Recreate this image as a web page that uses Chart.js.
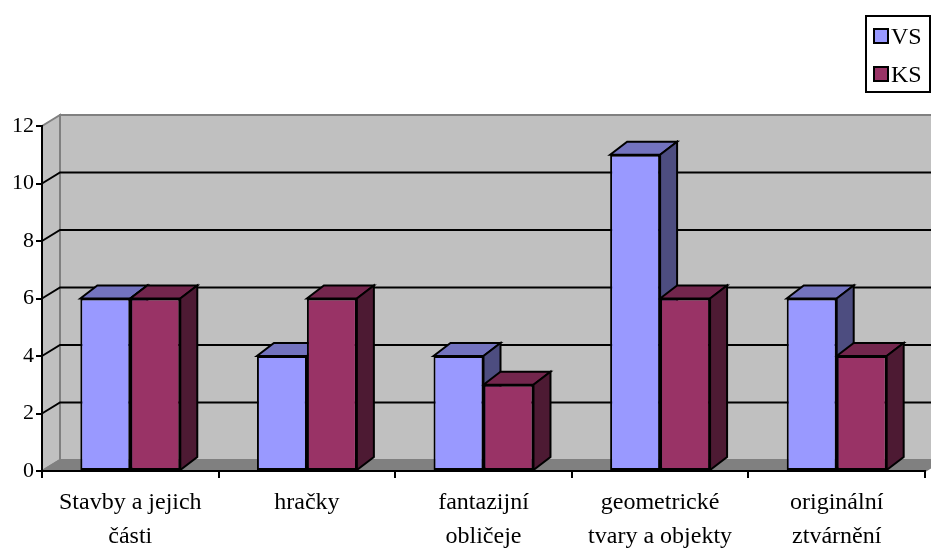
<!DOCTYPE html>
<html>
<head>
<meta charset="utf-8">
<script src="https://cdn.jsdelivr.net/npm/chart.js@4/dist/chart.umd.min.js"></script>
<style>
  html, body { margin: 0; padding: 0; background: #fff; }
  #wrap { width: 931px; height: 548px; }
</style>
</head>
<body>
<div id="wrap"><canvas id="c" width="931" height="548"></canvas></div>
<script>
const categories = [
  ["Stavby a jejich", "části"],
  "hračky",
  ["fantazijní", "obličeje"],
  ["geometrické", "tvary a objekty"],
  ["originální", "ztvárnění"]
];
const seriesNames = ["VS", "KS"];
const vsValues = [6, 4, 4, 11, 6];
const ksValues = [6, 6, 3, 6, 4];
const yTicks = [0, 2, 4, 6, 8, 10, 12];

const FONT = "'Liberation Serif', 'Times New Roman', serif";

// depth offsets of the 3D look
const WALL = { dx: 18, dy: -11 };
const BAR = { dx: 17, dy: -13 };

const shades = {
  VS: { front: '#9999ff', top: '#7373bf', side: '#4d4d80' },
  KS: { front: '#993366', top: '#73264d', side: '#4d1a33' }
};

function poly(ctx, pts, fill, stroke) {
  ctx.beginPath();
  ctx.moveTo(pts[0][0], pts[0][1]);
  for (let i = 1; i < pts.length; i++) ctx.lineTo(pts[i][0], pts[i][1]);
  ctx.closePath();
  if (fill) { ctx.fillStyle = fill; ctx.fill(); }
  if (stroke) { ctx.strokeStyle = stroke; ctx.stroke(); }
}

// side wall, back wall, floor and gridlines
const wallsPlugin = {
  id: 'walls',
  beforeDraw(chart) {
    const { ctx, chartArea: a, scales } = chart;
    const y = scales.y;
    const L = a.left, R = a.right, T = y.getPixelForValue(12), B = y.getPixelForValue(0);
    ctx.save();
    ctx.lineWidth = 2;
    ctx.lineJoin = 'miter';
    poly(ctx, [[L + WALL.dx, T + WALL.dy], [R + WALL.dx, T + WALL.dy], [R + WALL.dx, B + WALL.dy], [L + WALL.dx, B + WALL.dy]], '#c0c0c0', '#808080');
    poly(ctx, [[L, B], [L + WALL.dx, B + WALL.dy], [L + WALL.dx, T + WALL.dy], [L, T]], '#c0c0c0', '#808080');
    poly(ctx, [[L, B], [R, B], [R + WALL.dx, B + WALL.dy], [L + WALL.dx, B + WALL.dy]], '#808080', '#808080');
    ctx.strokeStyle = '#000';
    yTicks.forEach(v => {
      if (v === 0 || v === 12) return;
      const yy = y.getPixelForValue(v);
      ctx.beginPath();
      ctx.moveTo(L, yy);
      ctx.lineTo(L + WALL.dx, yy + WALL.dy);
      ctx.lineTo(R + WALL.dx + 20, yy + WALL.dy);
      ctx.stroke();
    });
    ctx.restore();
  }
};

// top and side faces of each bar, drawn category by category
const facesPlugin = {
  id: 'faces',
  beforeDatasetsDraw(chart) {
    const ctx = chart.ctx;
    ctx.save();
    ctx.lineWidth = 2;
    ctx.lineJoin = 'miter';
    const n = chart.data.labels.length;
    for (let i = 0; i < n; i++) {
      chart.data.datasets.forEach((ds, d) => {
        const el = chart.getDatasetMeta(d).data[i];
        const p = el.getProps(['x', 'y', 'base', 'width'], true);
        const l = p.x - p.width / 2, r = p.x + p.width / 2;
        const s = shades[ds.label];
        poly(ctx, [[l, p.y], [l + BAR.dx, p.y + BAR.dy], [r + BAR.dx, p.y + BAR.dy], [r, p.y]], s.top, '#000');
        poly(ctx, [[r, p.y], [r + BAR.dx, p.y + BAR.dy], [r + BAR.dx, p.base + BAR.dy], [r, p.base]], s.side, '#000');
      });
    }
    ctx.restore();
  }
};

// boxed legend in the top right corner
const legendPlugin = {
  id: 'boxLegend',
  afterDraw(chart) {
    const ctx = chart.ctx;
    ctx.save();
    ctx.lineWidth = 2;
    ctx.strokeStyle = '#000';
    ctx.strokeRect(866, 16, 64, 76);
    ctx.font = '24px ' + FONT;
    ctx.textBaseline = 'alphabetic';
    chart.data.datasets.forEach((ds, d) => {
      const cy = 36 + d * 38;
      ctx.fillStyle = shades[ds.label].front;
      ctx.fillRect(874, cy - 7, 14, 14);
      ctx.strokeRect(874, cy - 7, 14, 14);
      ctx.fillStyle = '#000';
      ctx.fillText(ds.label, 891, cy + 8);
    });
    ctx.restore();
  }
};

new Chart(document.getElementById('c'), {
  type: 'bar',
  data: {
    labels: categories,
    datasets: [
      { label: seriesNames[0], data: vsValues, backgroundColor: shades.VS.front },
      { label: seriesNames[1], data: ksValues, backgroundColor: shades.KS.front }
    ]
  },
  options: {
    responsive: false,
    animation: false,
    devicePixelRatio: 1,
    layout: { padding: { top: 126, right: 6, left: 0, bottom: 0 } },
    datasets: {
      bar: {
        borderColor: '#000',
        borderWidth: 2,
        borderSkipped: false,
        categoryPercentage: 0.566,
        barPercentage: 1.0
      }
    },
    plugins: {
      legend: { display: false },
      tooltip: { enabled: false }
    },
    scales: {
      x: {
        grid: { offset: true, drawOnChartArea: false, color: '#000', lineWidth: 2, tickLength: 7 },
        border: { color: '#000', width: 2 },
        ticks: {
          color: '#000',
          font: { family: FONT, size: 24, lineHeight: 1.42 },
          maxRotation: 0,
          autoSkip: false,
          padding: 8
        },
        afterFit(s) { s.height = 77; }
      },
      y: {
        min: 0,
        max: 12,
        grid: { drawOnChartArea: false, color: '#000', lineWidth: 2, tickLength: 6 },
        border: { color: '#000', width: 2 },
        ticks: {
          stepSize: 2,
          color: '#000',
          font: { family: FONT, size: 22 },
          padding: 2
        },
        afterFit(s) { s.width = 42; }
      }
    }
  },
  plugins: [wallsPlugin, facesPlugin, legendPlugin]
});
</script>
</body>
</html>
